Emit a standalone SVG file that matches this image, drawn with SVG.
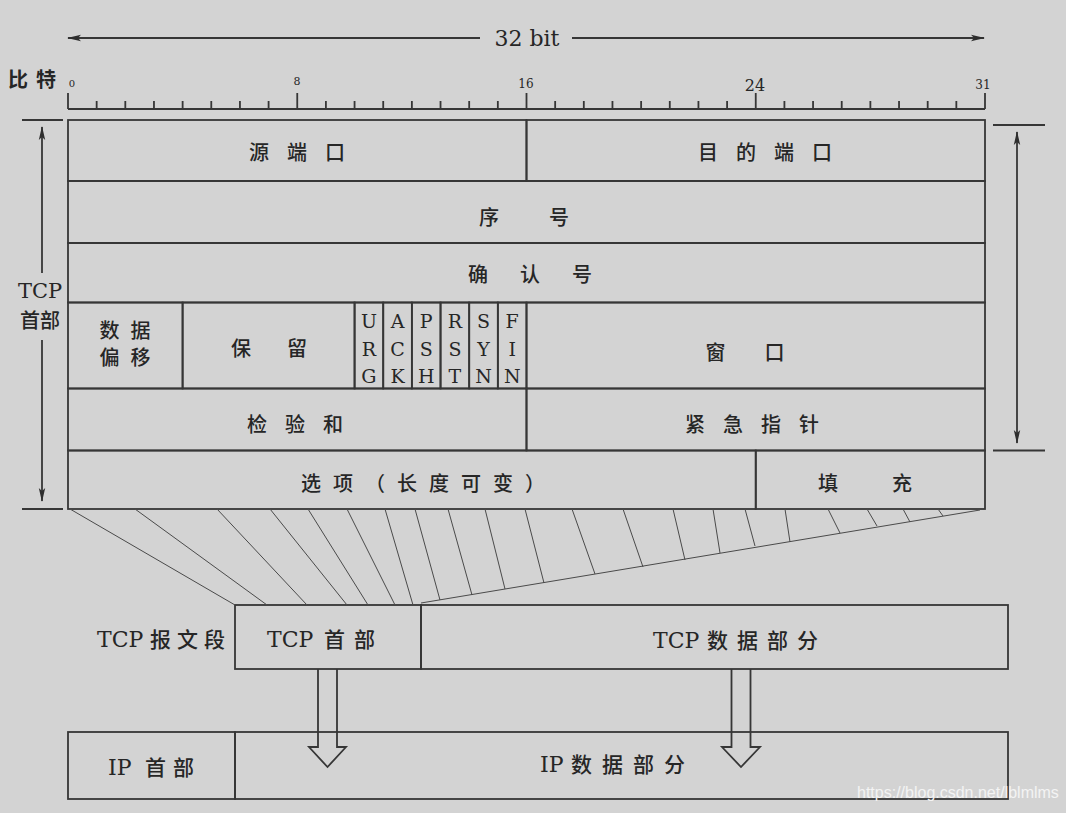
<svg xmlns="http://www.w3.org/2000/svg" width="1066" height="813" viewBox="0 0 1066 813">
<defs>
<style>
.ln{stroke:#363636;stroke-width:1.8;fill:none}
.cell{stroke:#363636;stroke-width:1.8;fill:none}
.hat{stroke:#4a4a4a;stroke-width:1;fill:none}
.cjk{font-family:"Noto Sans CJK SC",sans-serif;font-size:20px;font-weight:500;fill:#262626;text-anchor:middle}
.ser{font-family:"DejaVu Serif","Noto Sans CJK SC",serif;font-size:22px;fill:#262626}
.zh{font-family:"Noto Sans CJK SC",sans-serif;font-size:21px;font-weight:500}
.flag{font-family:"DejaVu Serif",serif;font-size:19px;fill:#262626;text-anchor:middle}
.num{font-family:"DejaVu Serif",serif;fill:#262626;text-anchor:middle}
</style>
<marker id="ah" viewBox="0 0 14 8" refX="13" refY="4" markerWidth="14" markerHeight="8" markerUnits="userSpaceOnUse" orient="auto">
<path d="M0,0.8 L14,4 L0,7.2 L3,4 Z" fill="#2e2e2e"/>
</marker>
</defs>
<rect x="0" y="0" width="1066" height="813" fill="#d3d3d3"/>

<g id="width-label">
<line class="ln" x1="480" y1="38" x2="68" y2="38" marker-end="url(#ah)"/>
<line class="ln" x1="572" y1="38" x2="984" y2="38" marker-end="url(#ah)"/>
<text class="num" x="527" y="46" font-size="22">32 bit</text>
</g>

<g id="ruler">
<text x="8" y="87" style="font-family:'Noto Sans CJK SC',sans-serif;font-size:20px;font-weight:bold;fill:#262626" letter-spacing="8">比特</text>
<text class="num" x="72" y="87" font-size="10">0</text>
<text class="num" x="297" y="85" font-size="11">8</text>
<text class="num" x="526" y="88" font-size="12">16</text>
<text class="num" x="755" y="91" font-size="16">24</text>
<text class="num" x="983" y="89" font-size="12">31</text>
<path class="ln" d="M68,109 H985 M68,93 V109 M297.25,93 V109 M526.5,93 V109 M755.75,93 V109 M985,93 V109"/>
<path class="ln" stroke-width="1.5" d="M96.66,101 V109 M125.31,101 V109 M153.97,101 V109 M182.63,101 V109 M211.28,101 V109 M239.94,101 V109 M268.59,101 V109 M325.91,101 V109 M354.56,101 V109 M383.22,101 V109 M411.88,101 V109 M440.53,101 V109 M469.19,101 V109 M497.84,101 V109 M555.16,101 V109 M583.81,101 V109 M612.47,101 V109 M641.13,101 V109 M669.78,101 V109 M698.44,101 V109 M727.09,101 V109 M784.41,101 V109 M813.06,101 V109 M841.72,101 V109 M870.38,101 V109 M899.03,101 V109 M927.69,101 V109 M956.34,101 V109"/>
</g>

<g id="src-port"><rect class="cell" x="68" y="120" width="458.5" height="61"/><text class="cjk" x="306" y="160" letter-spacing="18">源端口</text></g>
<g id="dst-port"><rect class="cell" x="526.5" y="120" width="458.5" height="61"/><text class="cjk" x="774" y="160" letter-spacing="18">目的端口</text></g>
<g id="seq"><rect class="cell" x="68" y="181" width="917" height="62"/><text class="cjk" x="549" y="225" font-size="21" letter-spacing="50">序号</text></g>
<g id="ack"><rect class="cell" x="68" y="243" width="917" height="59.5"/><text class="cjk" x="546" y="282" font-size="21" letter-spacing="32">确认号</text></g>
<g id="data-offset"><rect class="cell" x="68" y="302.5" width="114.6" height="86"/><text class="cjk" x="130.5" y="338" letter-spacing="11">数据</text><text class="cjk" x="130.5" y="365" letter-spacing="11">偏移</text></g>
<g id="reserved"><rect class="cell" x="182.6" y="302.5" width="172" height="86"/><text class="cjk" x="287" y="356" letter-spacing="36">保留</text></g>
<g id="flag-urg"><rect class="cell" x="354.56" y="302.5" width="28.66" height="86"/><text class="flag" x="368.9" y="328">U</text><text class="flag" x="368.9" y="356">R</text><text class="flag" x="368.9" y="383">G</text></g>
<g id="flag-ack"><rect class="cell" x="383.22" y="302.5" width="28.66" height="86"/><text class="flag" x="397.5" y="328">A</text><text class="flag" x="397.5" y="356">C</text><text class="flag" x="397.5" y="383">K</text></g>
<g id="flag-psh"><rect class="cell" x="411.88" y="302.5" width="28.66" height="86"/><text class="flag" x="426.2" y="328">P</text><text class="flag" x="426.2" y="356">S</text><text class="flag" x="426.2" y="383">H</text></g>
<g id="flag-rst"><rect class="cell" x="440.53" y="302.5" width="28.66" height="86"/><text class="flag" x="454.9" y="328">R</text><text class="flag" x="454.9" y="356">S</text><text class="flag" x="454.9" y="383">T</text></g>
<g id="flag-syn"><rect class="cell" x="469.19" y="302.5" width="28.66" height="86"/><text class="flag" x="483.5" y="328">S</text><text class="flag" x="483.5" y="356">Y</text><text class="flag" x="483.5" y="383">N</text></g>
<g id="flag-fin"><rect class="cell" x="497.84" y="302.5" width="28.66" height="86"/><text class="flag" x="512.2" y="328">F</text><text class="flag" x="512.2" y="356">I</text><text class="flag" x="512.2" y="383">N</text></g>
<g id="window"><rect class="cell" x="526.5" y="302.5" width="458.5" height="86"/><text class="cjk" x="764.5" y="360" letter-spacing="39">窗口</text></g>
<g id="checksum"><rect class="cell" x="68" y="388.5" width="458.5" height="62"/><text class="cjk" x="304" y="432" letter-spacing="18">检验和</text></g>
<g id="urgent"><rect class="cell" x="526.5" y="388.5" width="458.5" height="62"/><text class="cjk" x="761" y="432" letter-spacing="18">紧急指针</text></g>
<g id="options"><rect class="cell" x="68" y="450.5" width="687.75" height="58.5"/><text class="cjk" x="429" y="491" font-size="21" letter-spacing="12">选项（长度可变）</text></g>
<g id="padding"><rect class="cell" x="755.75" y="450.5" width="229.25" height="58.5"/><text class="cjk" x="892" y="491" font-size="21" letter-spacing="54">填充</text></g>

<g id="header-left-label">
<line class="ln" x1="22" y1="120" x2="63" y2="120"/>
<line class="ln" x1="22" y1="509" x2="63" y2="509"/>
<text class="num" x="40" y="298" font-size="21">TCP</text>
<text class="cjk" x="40" y="328" font-size="21">首部</text>
</g>
<g id="header-right-label">
<line class="ln" x1="993" y1="125" x2="1045" y2="125"/>
<line class="ln" x1="993" y1="450.5" x2="1045" y2="450.5"/>
</g>

<g id="tcp-segment">
<text class="ser" y="647"><tspan x="97">TCP</tspan><tspan class="zh" x="150" letter-spacing="6">报文段</tspan></text>
<g id="tcp-seg-header"><rect class="cell" x="235" y="605" width="186" height="64"/><text class="ser" y="647"><tspan x="267">TCP</tspan><tspan class="zh" x="324" letter-spacing="9">首部</tspan></text></g>
<g id="tcp-seg-data"><rect class="cell" x="421" y="605" width="587" height="64"/><text class="ser" y="648"><tspan x="653">TCP</tspan><tspan class="zh" x="707" letter-spacing="9">数据部分</tspan></text></g>
</g>
<g id="ip-packet">
<g id="ip-header"><rect class="cell" x="68" y="732" width="167" height="67"/><text class="ser" y="775"><tspan x="108">IP</tspan><tspan class="zh" x="145" letter-spacing="7">首部</tspan></text></g>
<g id="ip-data"><rect class="cell" x="235" y="732" width="773" height="67"/><text class="ser" y="772"><tspan x="540">IP</tspan><tspan class="zh" x="571" letter-spacing="10">数据部分</tspan></text></g>
</g>

<g id="connectors">
<line class="ln" x1="42" y1="273" x2="42" y2="127" marker-end="url(#ah)"/>
<line class="ln" x1="42" y1="340" x2="42" y2="501" marker-end="url(#ah)"/>
<line class="ln" x1="1017" y1="290" x2="1017" y2="132" marker-end="url(#ah)"/>
<line class="ln" x1="1017" y1="290" x2="1017" y2="443" marker-end="url(#ah)"/>
<path class="hat" stroke-width="1.3" d="M70,509 L235,605 M421,603 L980,510"/>
<path class="hat" d="M135,509 L267,605 M217,509 L307,605 M270,509 L347,605 M308,509 L368,605 M347,509 L395,605 M385,509 L413,605 M415,509 L440,600 M448,509 L472,595 M485,509 L505,589 M525,509 L544,583 M572,509 L595,574 M623,509 L643,567 M673,509 L685,560 M713,509 L720,553 M745,509 L755,546 M785,509 L790,542 M828,509 L840,533 M867,509 L877,526 M903,509 L910,522 M938,509 L943,516"/>
<path class="ln" fill="#d3d3d3" d="M318,669 V747 H309 L327.5,767 L346,747 H337 V669"/>
<path class="ln" fill="#d3d3d3" d="M731.5,669 V747 H722 L741,767 L760,747 H750.5 V669"/>
</g>

<text x="857" y="798" style="font-family:'Liberation Sans',Arial,sans-serif;font-size:16px;fill:#f4f4f4">https://blog.csdn.net/lblmlms</text>
</svg>
